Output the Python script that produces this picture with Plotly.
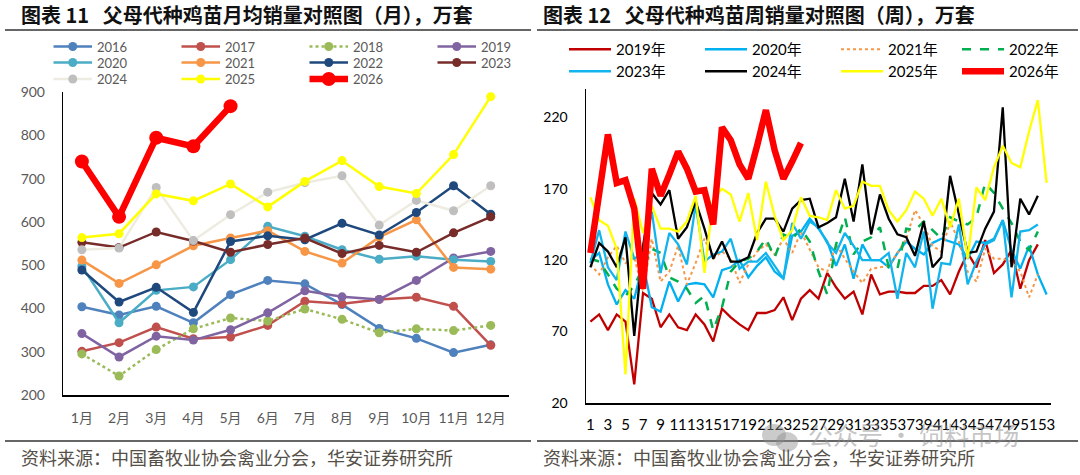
import plotly.graph_objects as go

# ---------------- data: left chart (monthly, 万套) ----------------
months = ["1月", "2月", "3月", "4月", "5月", "6月", "7月", "8月", "9月", "10月", "11月", "12月"]
m2016 = [404, 385, 405, 367, 432, 465, 457, 409, 354, 331, 298, 316]
m2017 = [301, 321, 357, 330, 334, 361, 417, 411, 421, 426, 405, 315]
m2018 = [295, 244, 305, 353, 378, 371, 399, 375, 344, 353, 349, 361]
m2019 = [342, 288, 336, 327, 351, 390, 441, 427, 421, 465, 517, 532]
m2020 = [498, 367, 442, 450, 513, 590, 567, 536, 514, 521, 513, 509]
m2021 = [512, 458, 501, 545, 563, 580, 532, 505, 565, 605, 495, 491]
m2022 = [489, 415, 449, 391, 555, 568, 559, 597, 570, 622, 684, 618]
m2023 = [553, 541, 577, 556, 530, 548, 563, 527, 546, 530, 575, 612]
m2024 = [536, 540, 680, 557, 617, 669, 691, 707, 593, 650, 626, 684]
m2025 = [564, 573, 665, 649, 688, 635, 694, 742, 682, 666, 756, 890]
m2026 = [740, 612, 795, 775, 868]

# ---------------- data: right chart (weekly, 万套) ----------------
w2019 = [77, 82, 71, 82, 77, 33, 97, 93, 73, 82, 73, 71, 82, 75, 63, 86, 80, 75, 71, 83,
         83, 85, 94, 78, 93, 99, 93, 111, 101, 93, 98, 82, 110, 96, 98, 98, 97, 97, 102, 102,
         106, 96, 112, 125, 115, 134, 111, 117, 127, 100, 120, 131]
w2020 = [120, 125, 103, 89, 99, 93, 118, 87, 84, 105, 91, 103, 104, 103, 94, 113, 115, 120, 108, 116,
         122, 112, 107, 137, 140, 149, 142, 133, 116, 131, 107, 131, 120, 120, 115, 125, 133, 128, 124, 132,
         135, 133, 131, 121, 133, 132, 135, 148, 127, 114, 130, 110, 96]
w2021 = [117, 110, 122, 130, 118, 122, 98, 135, 105, 112, 130, 103, 118, 135, 121, 126,
         121, 104, 117, 126, 131, 124, 135, 125, 140, 128, 115, 112, 131, 121, 112, 104, 114, 115,
         116, 125, 135, 155, 145, 130, 126, 147, 133, 112, 105, 128, 121, 121, 119, 112, 94, 110]
w2022 = [121, 119, 110, 100, 95, 102, 115, 128, 125, 108, 105, 100, 90, 95, 71, 87,
         112, 119, 121, 126, 135, 122, 138, 135, 142, 133, 112, 96, 131, 150, 124, 133, 136, 143,
         115, 114, 142, 141, 147, 141, 135, 150, 147, 145, 150, 174, 167, 156, 146, 133, 127, 140]
w2023 = [118, 141, 115, 106, 140, 121, 125, 154, 111, 139, 131, 117, 159, 119, 124, 126, 135, 114, 119, 119,
         125, 116, 107, 146, 135, 147, 143, 132, 125, 139, 130, 120, 120, 120, 125, 93, 125, 115, 140, 86,
         118, 117, 145, 103, 119, 131, 134, 148, 94, 140, 141, 145]
w2024 = [115, 132, 126, 115, 136, 67, 130, 167, 159, 169, 135, 143, 161, 142, 121, 133, 119,
         119, 122, 139, 149, 149, 140, 156, 162, 163, 143, 146, 150, 177, 147, 187, 138, 166,
         149, 138, 136, 123, 147, 115, 122, 179, 152, 125, 126, 142, 154, 227, 115, 163, 152, 165]
w2025 = [164, 148, 144, 128, 40, 163, 139, 158, 142, 142, 140, 147, 165, 111, 163, 170, 166,
         147, 167, 134, 175, 151, 134, 141, 164, 151, 150, 148, 169, 156, 158, 175, 172, 172,
         155, 147, 155, 168, 163, 151, 163, 143, 163, 121, 171, 162, 185, 200, 188, 185, 210, 232, 174]
w2026 = [125, 165, 208, 174, 176, 156, 100, 184, 165, 180, 196, 184, 168, 169, 145, 213, 204,
         187, 177, 200, 225, 197, 177, 189, 202]

week_ticks = list(range(1, 54, 2))

FONT = "Lato, 'Noto Sans CJK SC', sans-serif"
CJK = "'Noto Sans CJK SC', sans-serif"
W, H = 1080, 475


def px_x(p):
    return p / W


def px_y(p):
    return 1 - p / H


fig = go.Figure()

# ---------------- left traces ----------------
left_series = [
    ("2016", m2016, "#4F81BD", "#4F81BD", "solid", 2.5, 9, "legend"),
    ("2017", m2017, "#C0504D", "#C0504D", "solid", 2.5, 9, "legend"),
    ("2018", m2018, "#9BBB59", "#9BBB59", "dot", 2.5, 9, "legend"),
    ("2019", m2019, "#8064A2", "#8064A2", "solid", 2.5, 9, "legend"),
    ("2020", m2020, "#4BACC6", "#4BACC6", "solid", 2.5, 9, "legend2"),
    ("2021", m2021, "#F79646", "#F79646", "solid", 2.5, 9, "legend2"),
    ("2022", m2022, "#1F497D", "#1F497D", "solid", 2.5, 9, "legend2"),
    ("2023", m2023, "#772C2A", "#772C2A", "solid", 2.5, 9, "legend2"),
    ("2024", m2024, "#EEECE1", "#BFBFBF", "solid", 2.5, 9, "legend3"),
    ("2025", m2025, "#FFFF00", "#FFFF00", "solid", 2.5, 9, "legend3"),
    ("2026", m2026, "#FF0000", "#FF0000", "solid", 6.5, 14, "legend3"),
]
for name, vals, lc, mc, dash, lw, ms, lg in left_series:
    fig.add_trace(go.Scatter(
        x=months[:len(vals)], y=vals, name=name, mode="lines+markers",
        line=dict(color=lc, width=lw, dash=dash),
        marker=dict(color=mc, size=ms, symbol="circle"),
        xaxis="x", yaxis="y", legend=lg, hoverinfo="skip"))

# ---------------- right traces ----------------
right_series = [
    ("2019年", w2019, "#C00000", "solid", 2.3, "legend4"),
    ("2020年", w2020, "#00B0F0", "solid", 2.3, "legend4"),
    ("2021年", w2021, "#F79646", "dot", 2.0, "legend4"),
    ("2022年", w2022, "#00B050", "dash", 2.5, "legend5"),
    ("2023年", w2023, "#12B4EE", "solid", 2.3, "legend6"),
    ("2024年", w2024, "#000000", "solid", 2.3, "legend6"),
    ("2025年", w2025, "#FFFF00", "solid", 2.3, "legend6"),
    ("2026年", w2026, "#FF0000", "solid", 6.5, "legend7"),
]
for name, vals, lc, dash, lw, lg in right_series:
    fig.add_trace(go.Scatter(
        x=list(range(1, len(vals) + 1)), y=vals, name=name, mode="lines",
        line=dict(color=lc, width=lw, dash=dash),
        xaxis="x2", yaxis="y2", legend=lg, hoverinfo="skip"))


def legend_cfg(item_left, row_y, textgap, entry, size, color):
    cfg = dict(orientation="h", x=px_x(item_left), y=px_y(row_y), xanchor="left", yanchor="middle",
               itemwidth=max(30, textgap - 10), font=dict(size=size, color=color, family=FONT),
               bgcolor="rgba(0,0,0,0)", borderwidth=0, traceorder="normal",
               itemclick=False, itemdoubleclick=False)
    if entry:
        cfg["entrywidth"] = entry
        cfg["entrywidthmode"] = "pixels"
    return cfg


L_START, L_GAP, L_COL = 48.5, 48.5, 123
R_START, R_GAP, R_COL = 564, 52, 131

fig.update_layout(
    width=W, height=H, template="none",
    margin=dict(l=0, r=0, t=0, b=0),
    paper_bgcolor="white", plot_bgcolor="rgba(0,0,0,0)",
    font=dict(family=FONT, size=14, color="#595959"),
    showlegend=True, hovermode=False,
    legend=legend_cfg(L_START, 46.5, L_GAP, L_COL - L_GAP, 13, "#595959"),
    legend2=legend_cfg(L_START, 62.5, L_GAP, L_COL - L_GAP, 13, "#595959"),
    legend3=legend_cfg(L_START, 79, L_GAP, L_COL - L_GAP, 13, "#595959"),
    legend4=legend_cfg(R_START, 49.5, R_GAP, R_COL - R_GAP, 15, "#000000"),
    legend5=legend_cfg(R_START + 3 * R_COL, 49.5, R_GAP, None, 15, "#000000"),
    legend6=legend_cfg(R_START, 71.5, R_GAP, R_COL - R_GAP, 15, "#000000"),
    legend7=legend_cfg(R_START + 3 * R_COL, 71.5, R_GAP, None, 15, "#000000"),
    xaxis=dict(domain=[px_x(63.3), px_x(509.3)], anchor="y", type="category",
               categoryorder="array", categoryarray=months, range=[-0.5, 11.5],
               showline=True, linecolor="#000000", linewidth=1.5, mirror=False,
               showgrid=False, zeroline=False, ticks="outside", ticklen=10,
               tickcolor="rgba(0,0,0,0)", tickfont=dict(size=14, color="#595959", family=FONT),
               tickangle=0, fixedrange=True),
    yaxis=dict(domain=[px_y(395), px_y(92.3)], anchor="x", range=[200, 900], tick0=200, dtick=100,
               showline=True, linecolor="#000000", linewidth=1.5, showgrid=False, zeroline=False,
               ticks="outside", ticklen=14, tickcolor="rgba(0,0,0,0)",
               tickfont=dict(size=14, color="#595959", family=FONT), fixedrange=True),
    xaxis2=dict(domain=[px_x(586), px_x(1051)], anchor="y2", range=[0.5, 53.5],
                tickmode="array", tickvals=week_ticks, ticktext=[str(v) for v in week_ticks],
                showline=True, linecolor="#000000", linewidth=1.5, showgrid=False, zeroline=False,
                ticks="outside", ticklen=7, tickcolor="rgba(0,0,0,0)",
                tickfont=dict(size=15, color="#000000", family=FONT), tickangle=0, fixedrange=True),
    yaxis2=dict(domain=[px_y(403), px_y(88.7)], anchor="x2", range=[20, 240], tick0=20, dtick=50,
                showline=True, linecolor="#000000", linewidth=1.5, showgrid=False, zeroline=False,
                ticks="outside", ticklen=14, tickcolor="rgba(0,0,0,0)",
                tickfont=dict(size=14, color="#000000", family=FONT), fixedrange=True),
)

NB = "\u00a0"
annotations = [
    dict(text="<b>图表" + NB + "11" + NB * 3 + "父母代种鸡苗月均销量对照图（月），万套</b>",
         x=px_x(19), y=px_y(14), xanchor="left", yanchor="middle",
         font=dict(size=20, color="#111111", family=CJK)),
    dict(text="<b>图表" + NB + "12" + NB * 3 + "父母代种鸡苗周销量对照图（周），万套</b>",
         x=px_x(540.5), y=px_y(14), xanchor="left", yanchor="middle",
         font=dict(size=20, color="#111111", family=CJK)),
    dict(text="资料来源：中国畜牧业协会禽业分会，华安证券研究所",
         x=px_x(19), y=px_y(457), xanchor="left", yanchor="middle",
         font=dict(size=18, color="#555048", family=CJK)),
    dict(text="资料来源：中国畜牧业协会禽业分会，华安证券研究所",
         x=px_x(540.5), y=px_y(457), xanchor="left", yanchor="middle",
         font=dict(size=18, color="#555048", family=CJK)),
    dict(text="公众号" + NB + "·" + NB + "饲料市场",
         x=px_x(806), y=px_y(434), xanchor="left", yanchor="middle",
         font=dict(size=25, color="rgba(140,140,140,0.5)", family=CJK)),
]
for a in annotations:
    a.update(xref="paper", yref="paper", showarrow=False)
fig.update_layout(annotations=annotations)

line_style = dict(color="#333333", width=1.3)
shapes = [
    dict(type="line", x0=px_x(5), x1=px_x(531), y0=px_y(30), y1=px_y(30), line=line_style),
    dict(type="line", x0=px_x(537), x1=px_x(1078), y0=px_y(30), y1=px_y(30), line=line_style),
    dict(type="line", x0=px_x(5), x1=px_x(531), y0=px_y(441), y1=px_y(441), line=line_style),
    dict(type="line", x0=px_x(537), x1=px_x(1078), y0=px_y(441), y1=px_y(441), line=line_style),
    dict(type="circle", x0=px_x(762), x1=px_x(786), y0=px_y(446), y1=px_y(424),
         fillcolor="rgba(140,140,140,0.45)", line=dict(width=0)),
    dict(type="circle", x0=px_x(776), x1=px_x(798), y0=px_y(452), y1=px_y(432),
         fillcolor="rgba(140,140,140,0.45)", line=dict(width=0)),
]
for s in shapes:
    s.update(xref="paper", yref="paper", layer="above")
fig.update_layout(shapes=shapes)

fig.write_html("out.html", config={"displayModeBar": False, "staticPlot": True})
